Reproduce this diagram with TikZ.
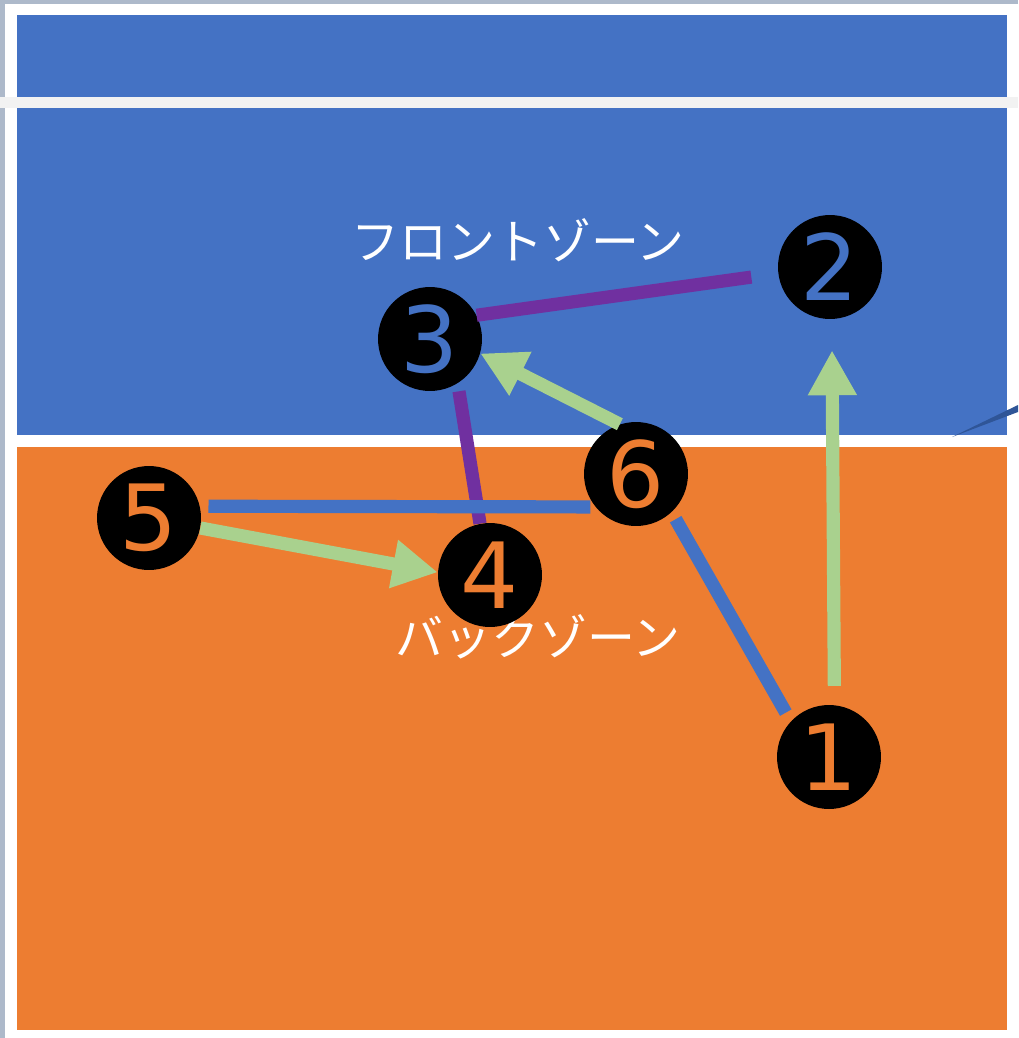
\documentclass[tikz,border=0pt]{standalone}
\usepackage{fontspec}
\setmainfont{Noto Sans CJK JP}
\newfontfamily\digitfont{DejaVu Sans}
\usetikzlibrary{arrows.meta}
\definecolor{courtblue}{HTML}{4472C4}
\definecolor{courtorange}{HTML}{ED7D31}
\definecolor{passgreen}{HTML}{A9D18E}
\definecolor{linkpurple}{HTML}{7030A0}
\definecolor{framegray}{HTML}{ADB9CA}
\definecolor{netgray}{HTML}{F2F2F2}
\definecolor{darkline}{HTML}{2F5597}
\tikzset{
    player/.style = {circle, fill=black, minimum size=2.08cm, inner sep=0pt, font=\digitfont\fontsize{52}{52}\selectfont},
    playerb/.style = {player, text=courtblue},
    playero/.style = {player, text=courtorange},
    zone/.style = {text=white, font=\fontsize{27.3}{27.3}\selectfont},
    edgep/.style = {line width=7.5pt, linkpurple},
    edgeb/.style = {line width=7.5pt, courtblue},
    edgeg/.style = {-{Triangle[length=0.9cm,width=0.92cm]}, line width=7.5pt, passgreen}
}
\begin{document}
\begin{tikzpicture}[x=0.02cm,y=-0.02cm]
\useasboundingbox (0,0) rectangle (1018,1038);
%
\fill[white] (0,0) rectangle (1018,1038);
\fill[framegray] (0,0) rectangle (1018,4);
\fill[framegray] (0,0) rectangle (5,1038);
\fill[courtblue] (17,15) rectangle (1007,435);
\fill[netgray] (0,97) rectangle (1018,108);
\fill[courtorange] (17,447) rectangle (1007,1030);
\fill[darkline] (952,437) -- (1018,405) -- (1018,412) -- cycle;
%
\node[zone] at (518,240) (front) {フロントゾーン};
\node[zone] at (538,637) (back) {バックゾーン};
%
\node[playero] at (829,757) (p1) {1};
\node[playerb] at (830,267) (p2) {2};
\node[playerb] at (430,339) (p3) {3};
\node[playero] at (490,575) (p4) {4};
\node[playero] at (149,518) (p5) {5};
\node[playero] at (636,474) (p6) {6};
%
\draw[edgep,shorten >=0.54cm] (p3.27) -- (p2.187);
\draw[edgep,shorten <=0.16cm] (p3.-58) -- (p4.101);
\draw[edgeb,shorten <=0.17cm,shorten >=0.1cm] (p5.13) -- (p6.219);
\draw[edgeb,shorten <=0.16cm,shorten >=0.2cm] (p6.-47) -- (p1.137.6);
\draw[edgeg,shorten <=0.38cm,shorten >=0.62cm] (p1.84) -- (p2.-88);
\draw[edgeg] (p6.108) -- (p3.-16);
\draw[edgeg] (p5.-11) -- (p4.177);
\end{tikzpicture}
\end{document}
